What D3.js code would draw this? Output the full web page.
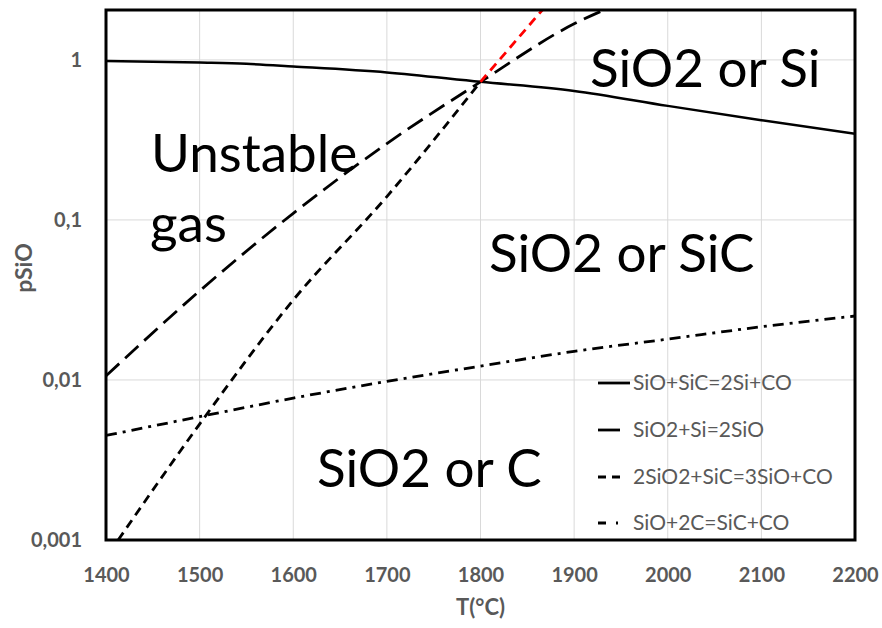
<!DOCTYPE html>
<html>
<head>
<meta charset="utf-8">
<script src="https://cdn.jsdelivr.net/npm/d3@7"></script>
<style>
  html, body { margin: 0; padding: 0; background: #fff; }
  svg { display: block; }
  text { font-family: Lato, "Open Sans", sans-serif; }
</style>
</head>
<body>
<svg id="chart" width="882" height="628"></svg>
<script>
// Axis ticks
const tempTicks = [1400, 1500, 1600, 1700, 1800, 1900, 2000, 2100, 2200];
const pTicks = [0.001, 0.01, 0.1, 1];
const pTickLabels = ["0,001", "0,01", "0,1", "1"];

// SiO+SiC=2Si+CO
const siTemp = [1400, 1500, 1550, 1600, 1700, 1800, 1900, 2000, 2100, 2200];
const siP = [0.985, 0.962, 0.945, 0.91, 0.835, 0.729, 0.64, 0.516, 0.42, 0.345];

// SiO2+Si=2SiO
const sio2SiTemp = [1400, 1500, 1600, 1700, 1800, 1900, 1940];
const sio2SiP = [0.0106, 0.036, 0.11, 0.30, 0.729, 1.68, 2.15];

// 2SiO2+SiC=3SiO+CO (stable part, then metastable continuation in red)
const sio2SicTemp = [1413, 1500, 1600, 1700, 1800];
const sio2SicP = [0.001, 0.0053, 0.0316, 0.14, 0.729];
const sio2SicRedTemp = [1800, 1866];
const sio2SicRedP = [0.729, 2.05];

// SiO+2C=SiC+CO
const cTemp = [1400, 1500, 1600, 1700, 1800, 1900, 2000, 2100, 2200];
const cP = [0.0045, 0.0059, 0.0077, 0.0098, 0.0122, 0.0151, 0.018, 0.0215, 0.0251];

// Legend entries
const legendLabels = ["SiO+SiC=2Si+CO", "SiO2+Si=2SiO", "2SiO2+SiC=3SiO+CO", "SiO+2C=SiC+CO"];

const svg = d3.select("#chart");
const plotLeft = 106, plotRight = 855, plotTop = 10, plotBottom = 540;
const pMax = 2.05;

const x = d3.scaleLinear().domain([1400, 2200]).range([plotLeft, plotRight]);
const y = d3.scaleLog().domain([0.001, pMax]).range([plotBottom, plotTop]);

const grey = "#595959";

// Gridlines
svg.append("g").selectAll("line")
  .data(tempTicks.slice(1, -1))
  .join("line")
  .attr("x1", d => x(d)).attr("x2", d => x(d))
  .attr("y1", plotTop).attr("y2", plotBottom)
  .attr("stroke", "#d9d9d9").attr("stroke-width", 1);
svg.append("g").selectAll("line")
  .data(pTicks.slice(1))
  .join("line")
  .attr("x1", plotLeft).attr("x2", plotRight)
  .attr("y1", d => y(d)).attr("y2", d => y(d))
  .attr("stroke", "#d9d9d9").attr("stroke-width", 1);

// Axes (labels only)
const xAxis = svg.append("g")
  .attr("transform", `translate(0,${plotBottom})`)
  .call(d3.axisBottom(x).tickValues(tempTicks).tickSize(0).tickPadding(28).tickFormat(d3.format("d")));
const yAxis = svg.append("g")
  .attr("transform", `translate(${plotLeft},0)`)
  .call(d3.axisLeft(y).tickValues(pTicks).tickSize(0).tickPadding(24)
    .tickFormat((d, i) => pTickLabels[i]));
[xAxis, yAxis].forEach(g => {
  g.select(".domain").remove();
  g.selectAll("text")
    .attr("fill", grey)
    .style("font-size", "20px")
    .style("font-weight", "bold")
    .style("font-family", "Lato, sans-serif");
});

// Axis titles
svg.append("text")
  .attr("x", (plotLeft + plotRight) / 2).attr("y", 615)
  .attr("text-anchor", "middle")
  .attr("fill", grey)
  .style("font-size", "22px").style("font-weight", "bold")
  .text("T(°C)");
svg.append("text")
  .attr("transform", `translate(32,268) rotate(-90)`)
  .attr("text-anchor", "middle")
  .attr("fill", grey)
  .style("font-size", "23px").style("font-weight", "bold")
  .text("pSiO");

// Clip for curves
svg.append("clipPath").attr("id", "plotClip")
  .append("rect").attr("x", plotLeft).attr("y", plotTop)
  .attr("width", plotRight - plotLeft).attr("height", plotBottom - plotTop);

const line = d3.line().x(d => x(d[0])).y(d => y(d[1])).curve(d3.curveMonotoneX);
const curves = svg.append("g").attr("clip-path", "url(#plotClip)");

function drawCurve(temps, ps, color, width, dash) {
  curves.append("path")
    .datum(d3.zip(temps, ps))
    .attr("d", line)
    .attr("fill", "none")
    .attr("stroke", color)
    .attr("stroke-width", width)
    .attr("stroke-dasharray", dash);
}

const styles = [
  { width: 2.5, dash: null },
  { width: 2.8, dash: "18,8" },
  { width: 2.8, dash: "9,6" },
  { width: 2.8, dash: "11,6,3,6" }
];

drawCurve(siTemp, siP, "#000", styles[0].width, styles[0].dash);
drawCurve(sio2SiTemp, sio2SiP, "#000", styles[1].width, styles[1].dash);
drawCurve(sio2SicTemp, sio2SicP, "#000", styles[2].width, styles[2].dash);
drawCurve(sio2SicRedTemp, sio2SicRedP, "#ff0000", styles[2].width, styles[2].dash);
drawCurve(cTemp, cP, "#000", styles[3].width, styles[3].dash);

// Plot frame
svg.append("rect")
  .attr("x", plotLeft).attr("y", plotTop)
  .attr("width", plotRight - plotLeft).attr("height", plotBottom - plotTop)
  .attr("fill", "none").attr("stroke", "#000").attr("stroke-width", 3);

// Region labels
const regions = [
  { t: "Unstable", x: 151, y: 172 },
  { t: "gas", x: 150, y: 242 },
  { t: "SiO2 or Si", x: 590, y: 87 },
  { t: "SiO2 or SiC", x: 489, y: 272 },
  { t: "SiO2 or C", x: 317, y: 487 }
];
svg.append("g").selectAll("text")
  .data(regions)
  .join("text")
  .attr("x", d => d.x).attr("y", d => d.y)
  .attr("fill", "#000")
  .style("font-size", "53px")
  .text(d => d.t);

// Legend
const legendY = [383, 430, 477, 523];
const sampleDash = [null, "22,100", "8,6,8,100", "8,10,2,100"];
const lg = svg.append("g");
legendLabels.forEach((lab, i) => {
  const sampleEnd = i === 0 ? 630 : 621;
  lg.append("line")
    .attr("x1", 598).attr("x2", sampleEnd)
    .attr("y1", legendY[i]).attr("y2", legendY[i])
    .attr("stroke", "#000").attr("stroke-width", 2.8)
    .attr("stroke-dasharray", sampleDash[i]);
  lg.append("text")
    .attr("x", 633).attr("y", legendY[i])
    .attr("dy", "0.35em")
    .attr("fill", grey)
    .style("font-size", "21px")
    .text(lab);
});
</script>
</body>
</html>
